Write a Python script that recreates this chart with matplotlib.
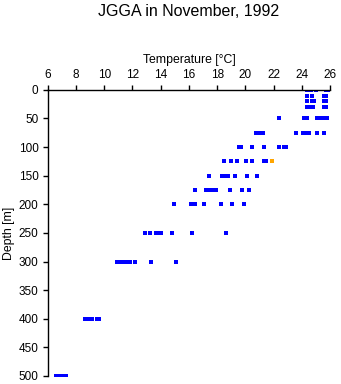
import numpy as np
import matplotlib
matplotlib.use("Agg")
import matplotlib.pyplot as plt

plt.rcParams['font.family'] = ['Liberation Sans', 'DejaVu Sans']

# sampled depths [m] and the temperatures [degC] measured at each one
depths = [0, 10, 20, 30, 50, 75, 100, 125, 150, 175, 200, 250, 300, 400, 500]
temps_by_depth = [
    [24.35, 24.5, 24.62, 24.98, 25.7, 25.85],
    [24.36, 24.73, 25.56, 25.72],
    [24.36, 24.71, 24.86, 25.58, 25.74],
    [24.36, 24.5, 24.8, 25.58, 25.74],
    [22.38, 24.15, 24.36, 25.05, 25.25, 25.4, 25.62, 25.75],
    [20.76, 21.04, 21.25, 23.6, 24.08, 24.22, 24.5, 25.1, 25.56],
    [19.55, 19.72, 20.47, 21.29, 22.37, 22.71, 22.88],
    [18.48, 19.0, 19.43, 20.06, 20.46, 21.32, 21.48],
    [17.45, 18.34, 18.5, 18.78, 19.29, 20.13, 20.84],
    [16.41, 17.22, 17.4, 17.62, 17.89, 18.9, 19.78, 20.25],
    [14.95, 16.16, 16.4, 17.07, 18.27, 19.06, 19.87],
    [12.86, 13.23, 13.68, 13.82, 14.03, 14.82, 16.23, 18.64],
    [10.93, 11.12, 11.43, 11.59, 11.8, 12.15, 13.32, 15.09],
    [8.67, 8.88, 9.17, 9.52, 9.66],
    [6.62, 6.88, 7.17, 7.31],
]

# single flagged sample
flag_depth = [125]
flag_temp = [21.85]

x_ticks = list(range(6, 27, 2))
y_ticks = list(range(0, 501, 50))

depth_all = np.concatenate([[d] * len(t) for d, t in zip(depths, temps_by_depth)])
temp_all = np.concatenate(temps_by_depth)

fig = plt.figure(figsize=(3.41, 3.84), dpi=100)
ax = fig.add_axes([0.14, 0.021, 0.828, 0.745])

ax.plot(temp_all, depth_all, 's', color='#0000ff', ms=2.4, mew=0)
ax.plot(flag_temp, flag_depth, 's', color='#ffa500', ms=2.4, mew=0)

ax.set_xlim(6, 26)
ax.set_ylim(500, 0)
ax.set_xticks(x_ticks)
ax.set_yticks(y_ticks)

ax.xaxis.set_ticks_position('top')
ax.xaxis.set_label_position('top')
for side in ('right', 'bottom'):
    ax.spines[side].set_visible(False)
for side in ('left', 'top'):
    ax.spines[side].set_linewidth(1.0)
ax.tick_params(direction='out', length=3.6, width=1.0, pad=3, labelsize=8.5)

ax.set_xlabel('Temperature [°C]', fontsize=8.8, labelpad=4)
ax.set_ylabel('Depth [m]', fontsize=8.8, labelpad=3)

# title centred over the plotting area rather than the whole figure
fig.suptitle('JGGA in November, 1992', fontsize=11.5, x=0.554, y=0.99)

fig.savefig('out.png', dpi=100)
